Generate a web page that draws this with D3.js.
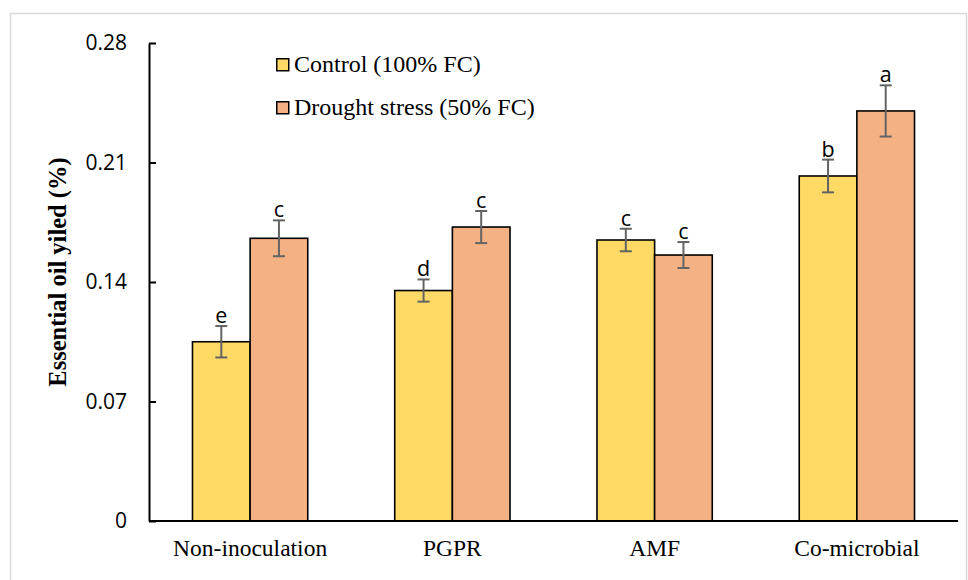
<!DOCTYPE html>
<html>
<head>
<meta charset="utf-8">
<script src="https://cdn.jsdelivr.net/npm/d3@7"></script>
<style>
  html, body { margin: 0; padding: 0; background: #fff; }
  svg { display: block; }
</style>
</head>
<body>
<svg id="chart" width="968" height="580"></svg>
<script>
const categories = ["Non-inoculation", "PGPR", "AMF", "Co-microbial"];
const seriesNames = ["Control (100% FC)", "Drought stress (50% FC)"];
const controlValues = [0.105, 0.135, 0.1646, 0.2021];
const droughtValues = [0.1656, 0.1722, 0.1558, 0.2402];
const controlErrors = [0.0092, 0.0065, 0.0066, 0.0096];
const droughtErrors = [0.0105, 0.0094, 0.0076, 0.015];
const controlLetters = ["e", "d", "c", "b"];
const droughtLetters = ["c", "c", "c", "a"];
const yTicks = [0, 0.07, 0.14, 0.21, 0.28];
const yTickLabels = ["0", "0.07", "0.14", "0.21", "0.28"];
const colors = ["#FFD966", "#F4B183"];

const series = [
  { name: seriesNames[0], values: controlValues, errors: controlErrors, letters: controlLetters, color: colors[0] },
  { name: seriesNames[1], values: droughtValues, errors: droughtErrors, letters: droughtLetters, color: colors[1] }
];

const svg = d3.select("#chart");

// outer frame
svg.append("rect")
  .attr("x", 10.5).attr("y", 13.5)
  .attr("width", 956).attr("height", 580)
  .attr("fill", "#fff").attr("stroke", "#d9d9d9").attr("stroke-width", 1.5);

const plotLeft = 149, plotRight = 958, plotTop = 43, plotBottom = 521;

const x0 = d3.scaleBand().domain(categories).range([plotLeft, plotRight]).paddingInner(0.43).paddingOuter(0.215);
const x1 = d3.scaleBand().domain([0, 1]).range([0, x0.bandwidth()]);
const y = d3.scaleLinear().domain([0, 0.28]).range([plotBottom, plotTop]);

// bars
const groups = svg.append("g").selectAll("g")
  .data(categories)
  .join("g")
  .attr("transform", d => `translate(${x0(d)},0)`);

series.forEach((s, si) => {
  groups.append("rect")
    .attr("x", x1(si))
    .attr("y", (d, i) => y(s.values[i]))
    .attr("width", x1.bandwidth())
    .attr("height", (d, i) => y(0) - y(s.values[i]))
    .attr("fill", s.color)
    .attr("stroke", "#000")
    .attr("stroke-width", 1.6);
});

// error bars and letters
series.forEach((s, si) => {
  const cx = (d) => x1(si) + x1.bandwidth() / 2;
  const eb = groups.append("g").attr("stroke", "#636363").attr("stroke-width", 2);
  eb.append("line")
    .attr("x1", cx).attr("x2", cx)
    .attr("y1", (d, i) => y(s.values[i] + s.errors[i]))
    .attr("y2", (d, i) => y(s.values[i] - s.errors[i]));
  eb.append("line")
    .attr("x1", d => cx(d) - 6).attr("x2", d => cx(d) + 6)
    .attr("y1", (d, i) => y(s.values[i] + s.errors[i]))
    .attr("y2", (d, i) => y(s.values[i] + s.errors[i]));
  eb.append("line")
    .attr("x1", d => cx(d) - 6).attr("x2", d => cx(d) + 6)
    .attr("y1", (d, i) => y(s.values[i] - s.errors[i]))
    .attr("y2", (d, i) => y(s.values[i] - s.errors[i]));
  groups.append("text")
    .attr("x", cx)
    .attr("y", (d, i) => y(s.values[i] + s.errors[i]) - 3)
    .attr("text-anchor", "middle")
    .attr("font-family", "'Open Sans', 'Noto Sans', sans-serif")
    .attr("font-size", 21.5)
    .attr("fill", "#000")
    .text((d, i) => s.letters[i]);
});

// y axis
const yAxis = d3.axisLeft(y).tickValues(yTicks).tickFormat((d, i) => yTickLabels[i]).tickSizeInner(-7).tickSizeOuter(0).tickPadding(22);
const yg = svg.append("g").attr("transform", `translate(${plotLeft},0)`).call(yAxis);
yg.select(".domain").attr("stroke", "#000").attr("stroke-width", 2);
yg.selectAll(".tick line").attr("stroke", "#000").attr("stroke-width", 2);
yg.selectAll(".tick text")
  .attr("font-family", "'Open Sans', 'Noto Sans', sans-serif")
  .attr("font-size", 21).attr("fill", "#000");

// x axis
const xAxis = d3.axisBottom(x0).tickSize(0).tickSizeOuter(0).tickPadding(18);
const xg = svg.append("g").attr("transform", `translate(0,${plotBottom})`).call(xAxis);
xg.select(".domain").attr("stroke", "#000").attr("stroke-width", 2)
  .attr("d", `M${plotLeft},0H${plotRight}`);
xg.selectAll(".tick text")
  .attr("font-family", "'Liberation Serif', 'Times New Roman', serif")
  .attr("font-size", 23.5).attr("fill", "#000");

// y title
svg.append("text")
  .attr("transform", `translate(66,272) rotate(-90)`)
  .attr("text-anchor", "middle")
  .attr("font-family", "'Liberation Serif', 'Times New Roman', serif")
  .attr("font-weight", "bold")
  .attr("font-size", 24.5)
  .attr("fill", "#000")
  .text("Essential oil yiled (%)");

// legend
const legend = svg.append("g").selectAll("g")
  .data(series)
  .join("g")
  .attr("transform", (d, i) => `translate(276,${58 + i * 43})`);
legend.append("rect")
  .attr("x", 0.75).attr("y", 0.75).attr("width", 12).attr("height", 12)
  .attr("fill", d => d.color).attr("stroke", "#000").attr("stroke-width", 1.5);
legend.append("text")
  .attr("x", 18).attr("y", 13.5)
  .attr("font-family", "'Liberation Serif', 'Times New Roman', serif")
  .attr("font-size", 24).attr("fill", "#000")
  .text(d => d.name);
</script>
</body>
</html>
